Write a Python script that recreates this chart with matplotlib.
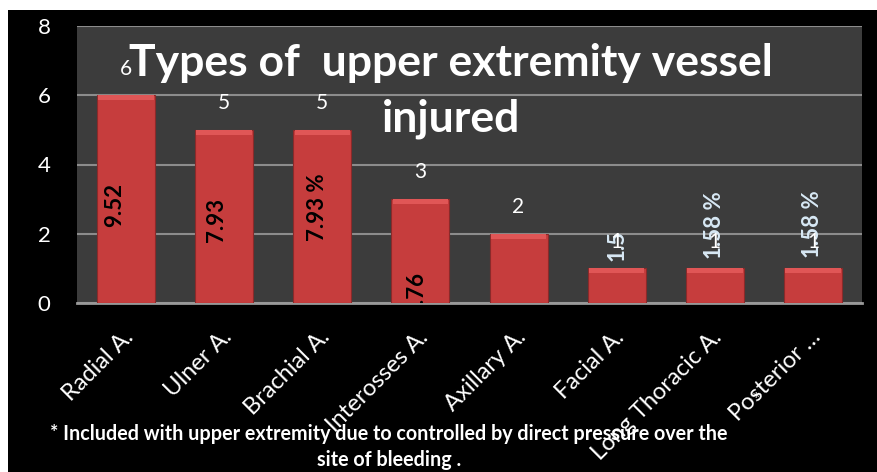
import matplotlib
matplotlib.use('Agg')
import matplotlib.pyplot as plt
from matplotlib.patches import Rectangle
from matplotlib.transforms import ScaledTranslation

plt.rcParams['font.family'] = ['Lato', 'DejaVu Sans']

categories = ['Radial A.', 'Ulner A.', 'Brachial A.', 'Interosses A.',
              'Axillary A.', 'Facial A.', 'Long Thoracic A.', 'Posterior \u2026']
counts = [6, 5, 5, 3, 2, 1, 1, 1]
pct_text = ['9.52', '7.93', '7.93 %', '4.76', '', '1.5', '1.58 %', '1.58 %']
yticks = [0, 2, 4, 6, 8]

# where the rotated percent labels sit (data units), as in the source picture
pct_y = [2.83, 2.40, 2.77, 0.26, 0, 1.65, 2.25, 2.28]
pct_dx = [-0.12, -0.08, -0.05, -0.03, 0, 0, 0, 0]
pct_col = ['black'] * 4 + ['#d8e9f5'] * 4

fig = plt.figure(figsize=(8.78, 4.72), dpi=100)
fig.patch.set_facecolor('black')
# white margins top / left of the slide crop
fig.patches.append(Rectangle((0, 1 - 10 / 472), 1, 10 / 472, transform=fig.transFigure,
                             facecolor='white', edgecolor='none', zorder=0))
fig.patches.append(Rectangle((0, 0), 8 / 878, 1, transform=fig.transFigure,
                             facecolor='white', edgecolor='none', zorder=0))

ax = fig.add_axes([77 / 878, 1 - 303 / 472, (862 - 77) / 878, (303 - 26) / 472])
ax.set_facecolor('#3c3c3c')

x = list(range(len(categories)))
w = 0.59
ax.bar(x, counts, width=w, color='#c63d3d', edgecolor='#8a2a2a', linewidth=0.8, zorder=3)
# bevel on top of each bar
ax.bar(x, [0.14] * len(x), bottom=[c - 0.14 for c in counts], width=w * 0.96,
       color='#e05656', edgecolor='none', zorder=4)

ax.set_xlim(-0.5, len(categories) - 0.5)
ax.set_ylim(0, 8)
ax.set_yticks(yticks)
ax.yaxis.grid(True, color='#8c8c8c', linewidth=1.5, zorder=1)
ax.set_axisbelow(True)
for s in ['top', 'left', 'right']:
    ax.spines[s].set_visible(False)
ax.spines['bottom'].set_color('#999999')
ax.spines['bottom'].set_linewidth(2)

ax.tick_params(axis='y', length=0, pad=19, labelsize=16, labelcolor='white')
ax.tick_params(axis='x', length=0, pad=22, labelsize=17, labelcolor='white')
ax.set_xticks(x)
ax.set_xticklabels(categories, rotation=45, ha='right', va='center', rotation_mode='anchor')
for lab in ax.get_xticklabels():
    lab.set_transform(lab.get_transform() + ScaledTranslation(4 / 100, 0, fig.dpi_scale_trans))

# count labels above bars
for i, c in enumerate(counts):
    ax.text(i, c + 0.77, str(c), ha='center', va='center', color='white', fontsize=15, zorder=6)

# rotated percent labels
for i, t in enumerate(pct_text):
    if not t:
        continue
    ax.text(i + pct_dx[i], pct_y[i], t, rotation=90, ha='center', va='center',
            color=pct_col[i], fontsize=16, fontweight='bold', zorder=5, clip_on=True)

fig.text(451 / 878, 1 - 76 / 472, 'Types of  upper extremity vessel', ha='center', va='baseline',
         color='white', fontsize=32, fontweight='bold')
fig.text(451 / 878, 1 - 132 / 472, 'injured', ha='center', va='baseline',
         color='white', fontsize=32, fontweight='bold')

fig.text(389 / 878, 1 - 440 / 472,
         '* Included with upper extremity due to controlled by direct pressure over the',
         ha='center', va='baseline', color='white', fontsize=14.2, fontweight='bold')
fig.text(389 / 878, 1 - 466 / 472, 'site of bleeding .', ha='center', va='baseline',
         color='white', fontsize=14.2, fontweight='bold')
fig.text(756 / 878, 1 - 400 / 472, '*', ha='center', va='center', color='white', fontsize=14)

fig.savefig('out.png', dpi=100, facecolor=fig.get_facecolor())
